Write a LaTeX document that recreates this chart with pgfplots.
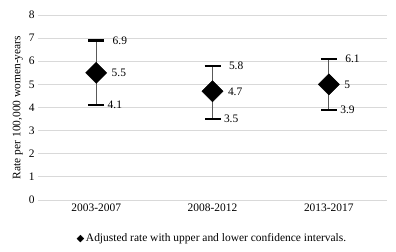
\documentclass[border=0pt]{standalone}
\usepackage{pgfplots}
\pgfplotsset{compat=1.18}
\usepackage{fontspec}
\setmainfont{Liberation Serif}
\definecolor{gridc}{HTML}{D9D9D9}
\begin{document}
\begin{tikzpicture}
\begin{axis}[
  scale only axis, width=349bp, height=185bp,
  xmin=-0.5, xmax=2.5, ymin=0, ymax=8,
  xtick={0,1,2}, xticklabels={2003-2007,2008-2012,2013-2017},
  ytick={0,1,...,8},
  axis line style={draw=none},
  major tick length=0pt,
  ymajorgrids, grid style={gridc, line width=0.8pt},
  font=\fontsize{11.5}{13.5}\selectfont,
  /pgf/number format/assume math mode=true,
  ylabel={Rate per 100,000 women-years},
  ylabel style={yshift=-1bp},
  legend style={at={(0.5,-0.16)}, anchor=north, draw=none, font=\fontsize{11.5}{13.5}\selectfont},
  legend cell align=left,
  legend image code/.code={\fill[black] (0cm,0cm) -- (0.12cm,0.12cm) -- (0.24cm,0cm) -- (0.12cm,-0.12cm) -- cycle;},
]
\addplot[only marks, mark=square*, mark size=7.5pt, mark options={rotate=45, black},
  nodes near coords, nodes near coords style={anchor=west, xshift=12bp, black},
  error bars/.cd, y dir=both, y explicit,
  error bar style={black!65, line width=0.7pt},
  error mark options={rotate=90, black, line width=2.5pt, mark size=8bp}]
  table[x=x, y=y, y error plus=ep, y error minus=em] {
  x y ep em
  0 5.5 1.4 1.4
  1 4.7 1.1 1.2
  2 5.0 1.1 1.1
  };
\addlegendentry{Adjusted rate with upper and lower confidence intervals.}
\addplot[draw=none, mark=none, forget plot, nodes near coords,
  nodes near coords style={anchor=west, xshift=13bp, black}]
  coordinates {(0,6.9) (1,5.8) (2,6.1)};
\addplot[draw=none, mark=none, forget plot, nodes near coords,
  nodes near coords style={anchor=west, xshift=8bp, black}]
  coordinates {(0,4.1) (1,3.5) (2,3.9)};
\end{axis}
\path (current axis.south west) ++(-38bp,-52bp) rectangle ++(396bp,252bp);
\end{tikzpicture}
\end{document}
